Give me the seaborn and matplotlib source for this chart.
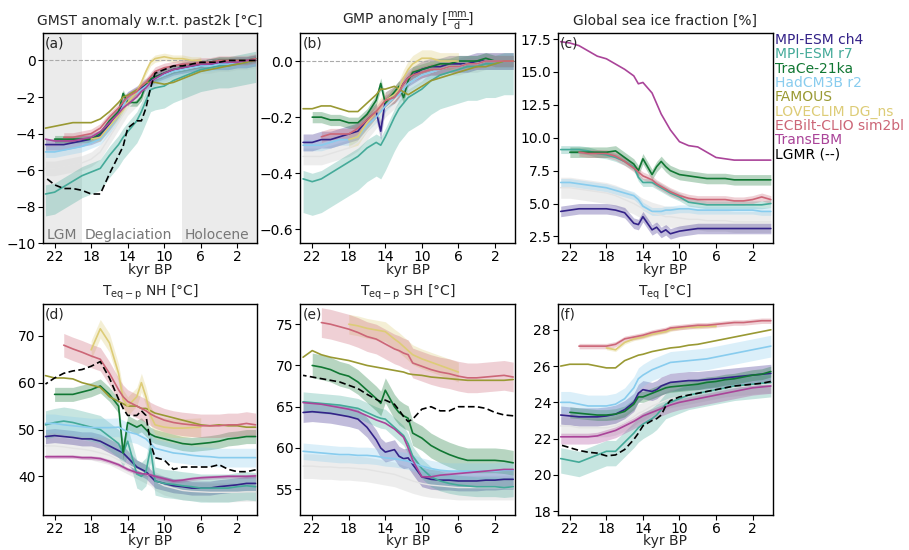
import numpy as np
import pandas as pd
import matplotlib
matplotlib.use("Agg")
import matplotlib.pyplot as plt
import seaborn as sns
from matplotlib.lines import Line2D

nan = np.nan

# ── time axis (kyr BP) ─────────────────────────────────────────────────────
kyr = [23, 22, 21, 20, 19, 18, 17, 16, 15, 14.5, 14, 13, 12.5, 12, 11.5, 11,
       10, 9, 8, 7, 6, 5, 4, 3, 2, 1, 0]

MODELS = ["MPI-ESM ch4", "MPI-ESM r7", "TraCe-21ka", "HadCM3B r2", "FAMOUS",
          "LOVECLIM DG_ns", "ECBilt-CLIO sim2bl", "TransEBM", "LGMR (--)"]
COLORS = {"MPI-ESM ch4": "#332288", "MPI-ESM r7": "#44AA99",
          "TraCe-21ka": "#117733", "HadCM3B r2": "#88CCEE",
          "FAMOUS": "#999933", "LOVECLIM DG_ns": "#DDCC77",
          "ECBilt-CLIO sim2bl": "#CC6677", "TransEBM": "#AA4499",
          "LGMR (--)": "black"}

# ── (a) GMST anomaly ───────────────────────────────────────────────────────
gmst = {
    "MPI-ESM ch4": [-4.6, -4.6, -4.6, -4.5, -4.4, -4.3, -4.1, -3.5, -2.8, -2.3, -2.0, -1.7, -1.5, -1.3, -1.1, -0.9, -0.7, -0.5, -0.4, -0.3, -0.3, -0.2, -0.2, -0.2, -0.1, -0.1, 0.0],
    "MPI-ESM r7": [-7.3, -7.2, -6.9, -6.6, -6.3, -6.1, -5.9, -5.2, -4.6, -4.2, -3.9, -3.3, -2.8, -2.2, -1.6, -1.5, -1.4, -1.1, -0.9, -0.7, -0.5, -0.4, -0.3, -0.3, -0.2, -0.1, 0.0],
    "TraCe-21ka": [nan, -4.3, -4.3, -4.3, -4.3, -4.3, -4.0, -3.3, -2.8, -1.8, -2.3, -2.3, -2.0, -1.3, -1.0, -0.9, -0.7, -0.5, -0.4, -0.3, -0.2, -0.1, 0.0, 0.0, 0.0, 0.0, 0.1],
    "HadCM3B r2": [-5.0, -5.0, -4.9, -4.8, -4.7, -4.5, -4.3, -3.7, -3.0, -2.5, -2.0, -1.8, -1.6, -1.4, -1.2, -1.0, -0.8, -0.6, -0.5, -0.4, -0.3, -0.3, -0.2, -0.2, -0.1, -0.1, 0.0],
    "FAMOUS": [-3.7, -3.6, -3.5, -3.4, -3.4, -3.4, -3.2, -2.8, -2.3, -2.0, -1.9, -1.6, -1.4, -1.2, -1.2, -1.2, -1.3, -1.2, -1.0, -0.8, -0.6, -0.5, -0.4, -0.3, -0.2, -0.1, 0.0],
    "LOVECLIM DG_ns": [nan, nan, nan, nan, nan, -4.3, -4.2, -3.6, -3.0, -2.7, -2.3, -1.7, -1.2, -0.6, -0.1, 0.1, 0.2, 0.1, 0.1, 0.0, 0.0, nan, nan, nan, nan, nan, nan],
    "ECBilt-CLIO sim2bl": [nan, nan, -4.2, -4.2, -4.1, -4.0, -3.7, -3.1, -2.6, -2.3, -2.0, -1.7, -1.4, -1.2, -0.9, -0.6, -0.4, -0.3, -0.2, -0.2, -0.1, -0.1, 0.0, 0.0, 0.0, 0.0, 0.1],
    "TransEBM": [-4.3, -4.4, -4.4, -4.4, -4.3, -4.2, -3.9, -3.4, -2.9, -2.6, -2.4, -2.0, -1.7, -1.5, -1.2, -1.0, -0.7, -0.5, -0.4, -0.3, -0.2, -0.2, -0.1, -0.1, -0.1, 0.0, 0.0],
    "LGMR (--)": [-6.4, -6.8, -7.0, -7.0, -7.1, -7.3, -7.3, -6.2, -5.2, -4.7, -3.7, -3.3, -3.3, -2.6, -1.5, -0.7, -0.5, -0.3, -0.3, -0.2, -0.1, -0.1, -0.1, 0.0, 0.0, 0.0, 0.0],
}
gmst_grey = [-5.9, -5.9, -5.8, -5.7, -5.6, -5.4, -5.0, -4.2, -3.4, -3.0, -2.6, -2.1, -1.8, -1.5, -1.2, -1.0, -0.8, -0.6, -0.5, -0.4, -0.3, -0.3, -0.2, -0.2, -0.1, -0.1, 0.0]
gmst_spread = {"MPI-ESM ch4": (0.3, 0.3), "MPI-ESM r7": (1.2, 0.5),
               "TraCe-21ka": (0.2, 0.2), "HadCM3B r2": (0.3, 0.3),
               "LOVECLIM DG_ns": (0.2, 0.2), "ECBilt-CLIO sim2bl": (0.25, 0.25),
               "grey": (0.4, 0.4)}

# ── (b) GMP anomaly ────────────────────────────────────────────────────────
gmp = {
    "MPI-ESM ch4": [-0.29, -0.29, -0.28, -0.28, -0.27, -0.26, -0.25, -0.21, -0.18, -0.25, -0.14, -0.12, -0.10, -0.08, -0.06, -0.05, -0.03, -0.02, -0.02, -0.01, -0.01, -0.01, 0.0, 0.0, 0.0, 0.0, 0.0],
    "MPI-ESM r7": [-0.42, -0.43, -0.42, -0.40, -0.38, -0.36, -0.34, -0.31, -0.29, -0.30, -0.27, -0.20, -0.17, -0.15, -0.13, -0.12, -0.10, -0.07, -0.05, -0.04, -0.03, -0.02, -0.02, -0.01, -0.01, 0.0, 0.0],
    "TraCe-21ka": [nan, -0.20, -0.20, -0.21, -0.21, -0.22, -0.22, -0.19, -0.14, -0.08, -0.15, -0.11, -0.09, -0.13, -0.07, -0.04, -0.03, -0.02, -0.01, -0.01, 0.0, 0.0, 0.0, 0.01, 0.0, 0.0, 0.0],
    "HadCM3B r2": [-0.30, -0.30, -0.30, -0.29, -0.28, -0.28, -0.27, -0.23, -0.20, -0.18, -0.16, -0.13, -0.12, -0.10, -0.08, -0.07, -0.05, -0.04, -0.03, -0.02, -0.02, -0.01, -0.01, 0.0, 0.0, 0.0, 0.0],
    "FAMOUS": [-0.17, -0.17, -0.16, -0.16, -0.17, -0.18, -0.18, -0.15, -0.12, -0.10, -0.10, -0.09, -0.10, -0.11, -0.12, -0.11, -0.09, -0.07, -0.06, -0.05, -0.04, -0.03, -0.02, -0.02, -0.01, 0.0, 0.0],
    "LOVECLIM DG_ns": [nan, nan, nan, nan, nan, -0.28, -0.27, -0.22, -0.18, -0.16, -0.14, -0.12, -0.10, -0.06, -0.03, -0.01, 0.01, 0.01, 0.0, 0.0, 0.0, nan, nan, nan, nan, nan, nan],
    "ECBilt-CLIO sim2bl": [nan, nan, -0.27, -0.26, -0.26, -0.26, -0.24, -0.21, -0.18, -0.16, -0.14, -0.13, -0.11, -0.08, -0.06, -0.05, -0.04, -0.03, -0.03, -0.02, -0.02, -0.01, -0.01, 0.0, 0.0, 0.0, 0.0],
}
gmp_grey = [-0.34, -0.34, -0.34, -0.33, -0.32, -0.31, -0.29, -0.25, -0.21, -0.19, -0.17, -0.14, -0.12, -0.10, -0.08, -0.07, -0.05, -0.04, -0.03, -0.02, -0.02, -0.01, -0.01, 0.0, 0.0, 0.0, 0.0]
gmp_spread = {"MPI-ESM ch4": (0.03, 0.03), "MPI-ESM r7": (0.12, 0.03),
              "TraCe-21ka": (0.02, 0.02), "HadCM3B r2": (0.02, 0.02),
              "LOVECLIM DG_ns": (0.03, 0.03), "ECBilt-CLIO sim2bl": (0.02, 0.02),
              "grey": (0.03, 0.03)}

# ── (c) global sea ice fraction ────────────────────────────────────────────
ice = {
    "MPI-ESM ch4": [4.4, 4.5, 4.6, 4.6, 4.6, 4.6, 4.5, 4.3, 3.5, 3.4, 4.0, 3.0, 3.2, 2.8, 3.0, 2.7, 2.9, 3.0, 3.1, 3.1, 3.1, 3.1, 3.1, 3.1, 3.1, 3.1, 3.1],
    "MPI-ESM r7": [9.1, 9.1, 9.1, 9.0, 8.8, 8.7, 8.5, 8.2, 7.8, 7.0, 6.6, 6.6, 6.4, 6.2, 6.0, 5.8, 5.5, 5.1, 5.0, 4.9, 4.9, 4.9, 4.9, 4.9, 4.9, 4.9, 5.0],
    "TraCe-21ka": [nan, 8.9, 8.9, 8.9, 8.9, 8.9, 9.0, 8.5, 8.0, 7.5, 8.4, 7.2, 7.8, 8.2, 7.8, 7.5, 7.2, 7.1, 7.0, 6.9, 6.9, 6.9, 6.8, 6.8, 6.8, 6.8, 6.8],
    "HadCM3B r2": [6.6, 6.6, 6.5, 6.4, 6.3, 6.2, 6.0, 5.8, 5.6, 5.3, 4.8, 4.4, 4.4, 4.4, 4.5, 4.5, 4.6, 4.6, 4.5, 4.5, 4.5, 4.5, 4.5, 4.5, 4.5, 4.4, 4.4],
    "ECBilt-CLIO sim2bl": [nan, nan, 8.9, 8.8, 8.8, 8.8, 8.6, 8.2, 7.7, 7.4, 7.1, 6.8, 6.5, 6.3, 6.1, 5.9, 5.6, 5.4, 5.3, 5.3, 5.3, 5.3, 5.2, 5.2, 5.3, 5.5, 5.3],
    "TransEBM": [17.3, 17.2, 17.0, 16.6, 16.2, 16.0, 15.6, 15.2, 14.7, 14.1, 14.2, 13.4, 12.6, 11.8, 11.2, 10.6, 9.7, 9.4, 9.3, 8.9, 8.5, 8.4, 8.3, 8.3, 8.3, 8.3, 8.3],
}
ice_grey = [6.2, 6.2, 6.1, 6.0, 5.9, 5.8, 5.6, 5.3, 5.0, 4.8, 4.6, 4.3, 4.2, 4.1, 4.0, 4.0, 3.9, 3.8, 3.8, 3.7, 3.7, 3.7, 3.6, 3.6, 3.6, 3.6, 3.6]
ice_spread = {"MPI-ESM ch4": (0.4, 0.4), "MPI-ESM r7": (0.3, 0.3),
              "TraCe-21ka": (0.4, 0.4), "HadCM3B r2": (0.3, 0.3),
              "ECBilt-CLIO sim2bl": (0.3, 0.3), "grey": (0.8, 0.8)}

# ── (d) T_eq-p NH ──────────────────────────────────────────────────────────
nh = {
    "MPI-ESM ch4": [48.5, 48.7, 48.5, 48.3, 48.0, 48.0, 47.5, 46.5, 45.5, 45.0, 44.0, 42.0, 41.5, 41.0, 40.0, 39.0, 38.5, 38.0, 37.8, 37.5, 37.5, 37.5, 37.8, 38.0, 38.2, 38.5, 38.5],
    "MPI-ESM r7": [51.0, 51.5, 51.8, 51.5, 51.0, 50.5, 50.0, 48.5, 47.0, 45.0, 47.5, 40.5, 40.0, 41.0, 46.0, 39.0, 38.5, 38.3, 38.0, 37.8, 37.5, 37.5, 37.5, 37.5, 37.8, 38.0, 37.8],
    "TraCe-21ka": [nan, 57.5, 57.5, 57.5, 58.0, 58.5, 59.3, 57.5, 55.0, 45.0, 51.5, 50.5, 51.0, 50.0, 49.0, 48.5, 48.0, 47.5, 47.0, 46.8, 47.0, 47.2, 47.5, 48.0, 48.2, 48.5, 48.5],
    "HadCM3B r2": [51.3, 51.3, 51.0, 50.8, 50.6, 50.4, 50.4, 50.4, 50.5, 50.0, 49.5, 49.0, 48.5, 48.0, 47.0, 46.0, 45.5, 45.0, 44.8, 44.5, 44.3, 44.2, 44.0, 44.0, 44.0, 44.0, 44.0],
    "FAMOUS": [61.5, 61.0, 61.0, 60.8, 60.0, 59.5, 59.0, 57.0, 56.0, 55.5, 55.0, 55.0, 54.5, 54.5, 54.0, 53.5, 53.0, 52.5, 52.0, 51.5, 51.0, 50.8, 51.0, 50.8, 50.8, 50.5, 50.5],
    "LOVECLIM DG_ns": [nan, nan, nan, nan, nan, 67.0, 71.5, 68.5, 62.0, 56.5, 55.0, 57.0, 60.0, 57.0, 53.0, 51.0, 50.5, 50.3, 50.3, 50.4, 50.5, nan, nan, nan, nan, nan, nan],
    "ECBilt-CLIO sim2bl": [nan, nan, 68.0, 67.2, 66.5, 65.7, 65.0, 62.0, 58.5, 57.0, 56.0, 55.0, 54.5, 54.0, 53.3, 52.8, 52.0, 51.5, 51.2, 51.0, 50.8, 50.8, 50.8, 51.0, 51.0, 51.3, 51.0],
    "TransEBM": [44.2, 44.2, 44.2, 44.2, 44.0, 44.0, 43.8, 43.2, 42.5, 42.0, 41.5, 40.8, 40.6, 40.5, 40.3, 40.0, 39.5, 39.0, 39.2, 39.5, 39.7, 39.8, 39.9, 40.0, 40.0, 40.0, 40.1],
    "LGMR (--)": [59.7, 61.0, 62.0, 62.5, 62.8, 63.5, 64.5, 61.0, 56.5, 54.5, 53.0, 53.0, 54.0, 53.0, 47.0, 44.0, 43.5, 41.5, 42.0, 42.0, 42.0, 42.0, 42.5, 41.5, 41.0, 41.0, 41.4],
}
nh_grey = [46.5, 46.5, 46.3, 46.0, 45.8, 45.5, 45.0, 44.5, 43.5, 43.0, 42.5, 41.5, 41.0, 40.5, 40.0, 39.0, 38.0, 37.5, 37.0, 36.8, 36.7, 36.6, 36.6, 36.6, 36.6, 36.7, 36.7]
nh_spread = {"MPI-ESM ch4": (1.5, 1.5), "MPI-ESM r7": (3.0, 3.0),
             "TraCe-21ka": (1.5, 1.5), "HadCM3B r2": (2.0, 2.0),
             "LOVECLIM DG_ns": (2.0, 2.0), "ECBilt-CLIO sim2bl": (2.5, 2.5),
             "TransEBM": (0.4, 0.4), "grey": (2.0, 2.0)}

# ── (e) T_eq-p SH ──────────────────────────────────────────────────────────
sh = {
    "MPI-ESM ch4": [64.3, 64.4, 64.3, 64.2, 64.0, 63.8, 63.5, 62.5, 61.0, 60.0, 59.5, 59.8, 59.0, 58.7, 58.8, 58.0, 56.5, 56.2, 56.1, 56.1, 56.0, 56.0, 56.0, 56.1, 56.1, 56.2, 56.2],
    "MPI-ESM r7": [65.6, 65.5, 65.4, 65.3, 65.2, 65.0, 64.8, 64.3, 63.8, 63.6, 63.5, 62.5, 62.0, 61.5, 60.5, 59.0, 57.5, 56.5, 56.0, 55.7, 55.5, 55.4, 55.3, 55.3, 55.3, 55.2, 55.3],
    "TraCe-21ka": [nan, 70.0, 69.8, 69.5, 69.0, 68.7, 68.0, 67.0, 66.0, 65.4, 67.0, 65.0, 64.3, 63.9, 63.6, 61.8, 61.2, 60.3, 59.7, 59.2, 58.8, 58.5, 58.5, 58.5, 58.5, 58.4, 58.2],
    "HadCM3B r2": [59.6, 59.5, 59.4, 59.3, 59.2, 59.2, 59.1, 59.1, 59.0, 58.9, 58.8, 58.7, 58.6, 58.5, 58.4, 58.2, 57.8, 57.5, 57.3, 57.2, 57.2, 57.2, 57.2, 57.2, 57.2, 57.3, 57.3],
    "FAMOUS": [71.0, 71.8, 71.3, 71.0, 70.8, 70.6, 70.3, 70.0, 69.8, 69.7, 69.6, 69.4, 69.3, 69.2, 69.0, 68.9, 68.8, 68.6, 68.5, 68.4, 68.3, 68.2, 68.2, 68.2, 68.2, 68.2, 68.3],
    "LOVECLIM DG_ns": [nan, nan, nan, nan, nan, 75.0, 74.8, 74.5, 74.3, 74.2, 74.1, 73.2, 72.8, 72.3, 71.8, 71.3, 70.8, 70.4, 70.0, 69.6, 69.2, nan, nan, nan, nan, nan, nan],
    "ECBilt-CLIO sim2bl": [nan, nan, 75.2, 75.0, 74.7, 74.4, 74.0, 73.5, 73.2, 72.9, 72.6, 72.0, 71.8, 71.5, 71.3, 70.3, 69.9, 69.5, 69.2, 69.0, 68.7, 68.5, 68.5, 68.6, 68.7, 68.8, 68.6],
    "TransEBM": [65.5, 65.4, 65.3, 65.1, 64.9, 64.7, 64.4, 63.9, 63.4, 63.2, 63.0, 62.3, 61.8, 61.3, 60.0, 58.5, 56.5, 56.5, 56.7, 56.8, 56.9, 57.0, 57.1, 57.2, 57.3, 57.4, 57.4],
    "LGMR (--)": [68.8, 68.6, 68.4, 68.2, 68.0, 67.6, 67.2, 66.5, 65.9, 65.6, 65.8, 65.3, 64.6, 63.8, 63.2, 63.5, 64.7, 65.0, 64.5, 64.5, 65.0, 65.0, 65.0, 64.8, 64.3, 64.0, 63.9],
}
sh_grey = [57.8, 57.8, 57.7, 57.7, 57.6, 57.6, 57.5, 57.4, 57.2, 57.1, 57.0, 56.8, 56.6, 56.4, 56.2, 56.0, 55.7, 55.5, 55.4, 55.3, 55.2, 55.2, 55.2, 55.2, 55.2, 55.2, 55.2]
sh_spread = {"MPI-ESM ch4": (1.2, 1.2), "MPI-ESM r7": (1.2, 1.2),
             "TraCe-21ka": (1.5, 1.5), "HadCM3B r2": (1.0, 1.0),
             "LOVECLIM DG_ns": (1.2, 1.2), "ECBilt-CLIO sim2bl": (1.8, 1.8),
             "grey": (1.5, 1.5)}

# ── (f) T_eq ───────────────────────────────────────────────────────────────
teq = {
    "MPI-ESM ch4": [23.3, 23.25, 23.2, 23.2, 23.2, 23.25, 23.35, 23.6, 24.0, 24.5, 24.7, 24.6, 24.7, 24.9, 25.0, 25.1, 25.15, 25.2, 25.2, 25.25, 25.3, 25.35, 25.4, 25.45, 25.5, 25.55, 25.6],
    "MPI-ESM r7": [20.9, 20.8, 20.7, 20.9, 21.1, 21.3, 21.3, 21.8, 22.3, 22.6, 22.8, 23.1, 23.3, 23.6, 23.9, 24.0, 24.2, 24.4, 24.5, 24.6, 24.7, 24.8, 24.9, 24.95, 25.0, 25.05, 25.1],
    "TraCe-21ka": [nan, 23.45, 23.4, 23.35, 23.3, 23.3, 23.35, 23.5, 23.9, 24.3, 24.3, 24.5, 24.6, 24.7, 24.8, 24.85, 24.9, 24.95, 25.0, 25.1, 25.15, 25.25, 25.3, 25.4, 25.5, 25.55, 25.7],
    "HadCM3B r2": [24.0, 24.0, 23.9, 23.8, 23.8, 23.8, 23.9, 24.2, 24.8, 25.3, 25.5, 25.8, 25.9, 26.0, 26.1, 26.2, 26.25, 26.3, 26.35, 26.4, 26.5, 26.6, 26.7, 26.8, 26.9, 27.0, 27.1],
    "FAMOUS": [26.0, 26.1, 26.1, 26.1, 26.0, 25.9, 25.9, 26.3, 26.5, 26.6, 26.65, 26.8, 26.85, 26.9, 26.95, 27.0, 27.05, 27.15, 27.2, 27.3, 27.4, 27.5, 27.6, 27.7, 27.8, 27.9, 28.0],
    "LOVECLIM DG_ns": [nan, nan, nan, nan, nan, 27.0, 26.9, 27.3, 27.5, 27.55, 27.6, 27.75, 27.8, 27.85, 27.9, 28.0, 28.1, 28.15, 28.15, 28.2, 28.2, nan, nan, nan, nan, nan, nan],
    "ECBilt-CLIO sim2bl": [nan, nan, 27.1, 27.1, 27.1, 27.1, 27.2, 27.5, 27.6, 27.65, 27.7, 27.85, 27.9, 27.95, 28.0, 28.1, 28.15, 28.2, 28.25, 28.25, 28.3, 28.35, 28.4, 28.4, 28.45, 28.5, 28.5],
    "TransEBM": [22.1, 22.1, 22.1, 22.1, 22.15, 22.3, 22.45, 22.7, 22.95, 23.1, 23.25, 23.45, 23.55, 23.65, 23.75, 23.85, 24.0, 24.1, 24.2, 24.3, 24.4, 24.5, 24.6, 24.7, 24.8, 24.85, 24.9],
    "LGMR (--)": [21.65, 21.5, 21.35, 21.25, 21.2, 21.05, 21.1, 21.4, 21.95, 22.3, 22.7, 23.0, 23.1, 23.3, 23.8, 24.1, 24.3, 24.4, 24.5, 24.6, 24.7, 24.8, 24.9, 24.95, 25.0, 25.05, 25.15],
}
teq_grey = [22.7, 22.7, 22.6, 22.6, 22.6, 22.6, 22.7, 22.9, 23.2, 23.4, 23.5, 23.8, 23.9, 24.0, 24.1, 24.2, 24.3, 24.4, 24.5, 24.6, 24.7, 24.8, 24.85, 24.9, 24.95, 25.0, 25.0]
teq_spread = {"MPI-ESM ch4": (0.5, 0.5), "MPI-ESM r7": (0.8, 0.6),
              "TraCe-21ka": (0.3, 0.3), "HadCM3B r2": (0.6, 0.6),
              "LOVECLIM DG_ns": (0.1, 0.1), "ECBilt-CLIO sim2bl": (0.15, 0.15),
              "TransEBM": (0.4, 0.2), "grey": (0.5, 0.5)}

# ── style ──────────────────────────────────────────────────────────────────
sns.set_style("ticks")
plt.rcParams["font.family"] = ["DejaVu Sans"]
plt.rcParams["mathtext.default"] = "regular"
FS = 10
plt.rcParams.update({"axes.edgecolor": "black", "axes.linewidth": 1.0,
                     "xtick.color": "black", "ytick.color": "black",
                     "xtick.labelsize": FS, "ytick.labelsize": FS})


def draw_panel(ax, data, spread, grey, title, letter, ylim, yticks):
    t = np.array(kyr, dtype=float)
    g = np.array(grey, dtype=float)
    lo, hi = spread["grey"]
    ax.fill_between(t, g - lo, g + hi, color="#d9d9d9", alpha=0.45, lw=0)
    sns.lineplot(x=t, y=g, color="#e3e3e3", lw=1.0, ax=ax)

    for name in MODELS:
        if name not in data or name not in spread:
            continue
        y = np.array(data[name], dtype=float)
        lo, hi = spread[name]
        ax.fill_between(t, y - lo, y + hi, color=COLORS[name], alpha=0.3, lw=0)

    long = (pd.DataFrame(data).assign(kyr=kyr)
            .melt(id_vars="kyr", var_name="model", value_name="value")
            .dropna())
    present = [m for m in MODELS if m in data]
    sns.lineplot(data=long, x="kyr", y="value", hue="model", style="model",
                 hue_order=present, style_order=present,
                 palette={m: COLORS[m] for m in present},
                 dashes={m: ((4, 2) if m.startswith("LGMR") else "")
                         for m in present},
                 estimator=None, errorbar=None, lw=1.2, legend=False, ax=ax)

    ax.set_xlim(23.3, -0.2)
    ax.set_xticks([22, 18, 14, 10, 6, 2])
    ax.set_ylim(*ylim)
    ax.set_yticks(yticks)
    ax.set_xlabel("kyr BP", fontsize=FS, labelpad=-1)
    ax.set_ylabel("")
    ax.set_title(title, fontsize=FS, pad=6)
    ax.text(0.01, 0.985, letter, transform=ax.transAxes, ha="left", va="top",
            fontsize=FS)
    ax.tick_params(direction="out", length=3.5, width=0.8, pad=1.5)
    for s in ax.spines.values():
        s.set_visible(True)


fig, axes = plt.subplots(2, 3, figsize=(9.09, 5.5), dpi=100)
fig.subplots_adjust(left=0.047, right=0.850, bottom=0.064, top=0.94,
                    wspace=0.2, hspace=0.29)

ax = axes[0, 0]
ax.axvspan(23.3, 19, color="#ebebeb", lw=0, zorder=0)
ax.axvspan(8, -0.2, color="#ebebeb", lw=0, zorder=0)
ax.axhline(0, color="#aaaaaa", ls="--", lw=0.8)
draw_panel(ax, gmst, gmst_spread, gmst_grey,
           "GMST anomaly w.r.t. past2k [°C]", "(a)", (-10, 1.5),
           [-10, -8, -6, -4, -2, 0])
for label, x in [("LGM", 21.25), ("Deglaciation", 13.9), ("Holocene", 4.2)]:
    ax.text(x, -9.9, label, ha="center", va="bottom", color="#777777",
            fontsize=FS)

ax = axes[0, 1]
ax.axhline(0, color="#aaaaaa", ls="--", lw=0.8)
draw_panel(ax, gmp, gmp_spread, gmp_grey,
           r"GMP anomaly [$\frac{\mathrm{mm}}{\mathrm{d}}$]", "(b)",
           (-0.65, 0.1), [-0.6, -0.4, -0.2, 0.0])

draw_panel(axes[0, 2], ice, ice_spread, ice_grey,
           "Global sea ice fraction [%]", "(c)", (1.97, 17.96),
           [2.5, 5.0, 7.5, 10.0, 12.5, 15.0, 17.5])
draw_panel(axes[1, 0], nh, nh_spread, nh_grey,
           r"T$_{\mathrm{eq-p}}$ NH [°C]", "(d)", (31.8, 76.7),
           [40, 50, 60, 70])
draw_panel(axes[1, 1], sh, sh_spread, sh_grey,
           r"T$_{\mathrm{eq-p}}$ SH [°C]", "(e)", (51.9, 77.4),
           [55, 60, 65, 70, 75])
draw_panel(axes[1, 2], teq, teq_spread, teq_grey,
           r"T$_{\mathrm{eq}}$ [°C]", "(f)", (17.8, 29.4),
           [18, 20, 22, 24, 26, 28])

# legend: coloured text only
handles = [Line2D([], [], color=COLORS[m], lw=0) for m in MODELS]
axes[0, 2].legend(handles, MODELS, loc="upper left",
                  bbox_to_anchor=(1.01, 1.0), frameon=False,
                  handlelength=0, handletextpad=0, borderaxespad=0,
                  borderpad=0, labelspacing=0.02, fontsize=10,
                  labelcolor=[COLORS[m] for m in MODELS])

fig.savefig("out.png", dpi=100)
